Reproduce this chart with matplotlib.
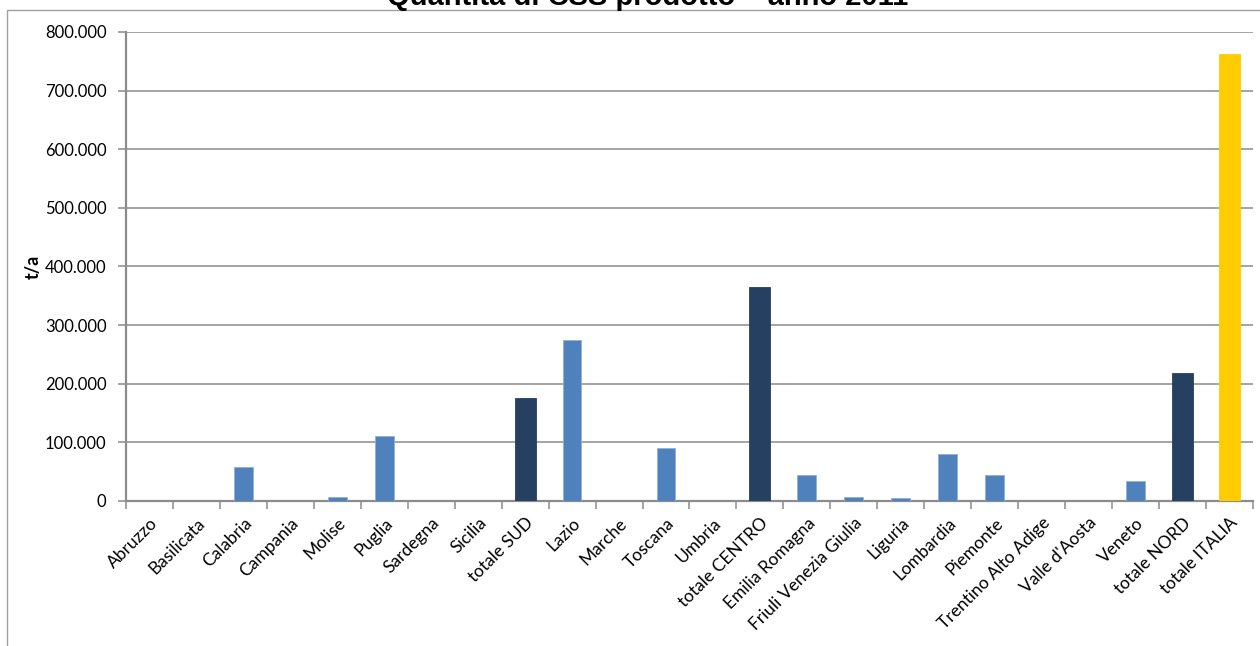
import numpy as np
import matplotlib.pyplot as plt
from matplotlib.patches import Rectangle

regions = [
    "Abruzzo", "Basilicata", "Calabria", "Campania", "Molise", "Puglia",
    "Sardegna", "Sicilia", "totale SUD", "Lazio", "Marche", "Toscana",
    "Umbria", "totale CENTRO", "Emilia Romagna", "Friuli Venezia Giulia",
    "Liguria", "Lombardia", "Piemonte", "Trentino Alto Adige",
    "Valle d'Aosta", "Veneto", "totale NORD", "totale ITALIA",
]
# t/a per region, 2011
quantity = [
    0, 0, 58000, 0, 7000, 111000,
    0, 0, 176000, 274000, 0, 90000,
    0, 365000, 45000, 7500,
    5000, 80000, 45000, 0,
    0, 34000, 218000, 762000,
]
y_ticks = [0, 100000, 200000, 300000, 400000, 500000, 600000, 700000, 800000]

BLUE = "#4F81BD"
NAVY = "#254061"
GOLD = "#FFCC00"
GRID = "#8C8C8C"


def bar_color(name):
    if name == "totale ITALIA":
        return GOLD
    if name.startswith("totale"):
        return NAVY
    return BLUE


def fmt(v):
    return f"{v:,.0f}".replace(",", ".")


fig = plt.figure(figsize=(12.6, 6.46), dpi=100)
ax = fig.add_axes([0.1, 0.2245, 0.8944, 0.726])

# outer chart frame
fig.patches.append(Rectangle((7 / 1260, -0.1), 1.2, 1 - 10 / 646 + 0.1,
                             transform=fig.transFigure, fill=False,
                             edgecolor="#A0A0A0", linewidth=1.0))

x = np.arange(len(regions))
colors = [bar_color(r) for r in regions]
for xi, v, c in zip(x, quantity, colors):
    if v == 0:
        continue
    is_total = c != BLUE
    ax.bar(xi, v, width=0.45 if is_total else 0.40, color=c,
           edgecolor=c if is_total else "#8FB0D8",
           linewidth=0.6, zorder=3)

ax.set_xlim(-0.5, len(regions) - 0.5)
ax.set_ylim(0, 800000)
ax.set_yticks(y_ticks)
ax.set_yticklabels([fmt(v) for v in y_ticks], fontfamily="Lato", fontsize=12)
ax.yaxis.grid(True, color=GRID, linewidth=1.1, zorder=0)
ax.set_axisbelow(True)

ax.set_xticks(x)
ax.set_xticklabels(regions, rotation=45, ha="right", rotation_mode="anchor",
                   fontfamily="Lato", fontsize=12.5)
ax.set_xticks(np.arange(-0.5, len(regions)), minor=True)
ax.tick_params(axis="x", which="major", length=0, pad=10)
ax.tick_params(axis="x", which="minor", length=6, width=1.1, color=GRID)
ax.tick_params(axis="y", length=6, width=1.1, color=GRID, pad=8)

for side in ("top", "right"):
    ax.spines[side].set_visible(False)
for side in ("left", "bottom"):
    ax.spines[side].set_color(GRID)
    ax.spines[side].set_linewidth(1.6)

ax.set_ylabel("t/a", fontfamily="Lato", fontweight="bold", fontsize=13,
              labelpad=2)

fig.text(0.514, 1 - 5 / 646, "Quantità di CSS prodotto – anno 2011",
         ha="center", va="baseline", fontfamily="Liberation Sans",
         fontweight="bold", fontsize=21)

fig.savefig("out.png", dpi=100)
